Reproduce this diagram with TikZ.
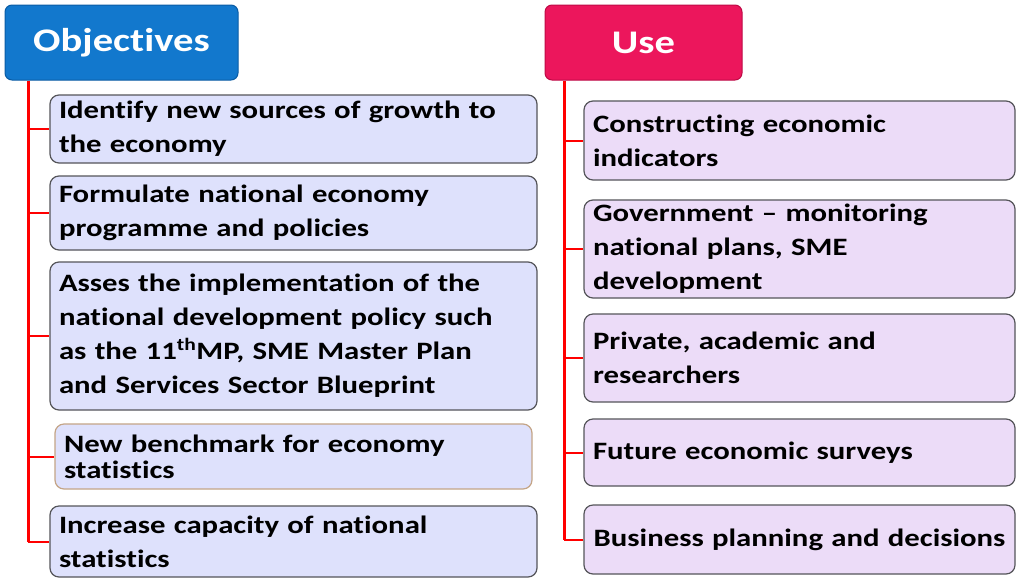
\documentclass[tikz,border=0pt]{standalone}
\usepackage{fontspec}
\newfontfamily\boxfont{Carlito}[FakeStretch=1.23, Ligatures={TeX,NoCommon}]
\definecolor{objblue}{RGB}{18,120,205}
\definecolor{objborder}{RGB}{10,92,165}
\definecolor{usepink}{RGB}{236,22,92}
\definecolor{useborder}{RGB}{190,10,70}
\definecolor{leftfill}{RGB}{222,225,252}
\definecolor{rightfill}{RGB}{236,220,248}
\definecolor{boxborder}{RGB}{85,85,90}
\definecolor{brownborder}{RGB}{196,165,135}
\definecolor{linered}{RGB}{255,0,0}
\begin{document}
\begin{tikzpicture}[x=1pt,y=-1pt,
  hdr/.style={rounded corners=7pt, minimum height=75pt, inner sep=0pt,
    font=\boxfont\bfseries\fontsize{33}{40}\selectfont, text=white, line width=1pt},
  item/.style={draw=boxborder, line width=1.2pt, rounded corners=9pt,
    inner xsep=9pt, inner ysep=0pt, align=left, text=black,
    font=\boxfont\bfseries\fontsize{25}{34}\selectfont},
  leftitem/.style={item, fill=leftfill, minimum width=487pt, text width=469pt},
  rightitem/.style={item, fill=rightfill, minimum width=431pt, text width=413pt},
  trunk/.style={draw=linered, line width=3pt},
  branch/.style={draw=linered, line width=2pt}]
\useasboundingbox (0,0) rectangle (1017,579);
\fill[white] (0,0) rectangle (1017,579);

% headers
\node[hdr, fill=objblue, draw=objborder, minimum width=233pt] (obj) at (121.5,42.5) {Objectives};
\node[hdr, fill=usepink, draw=useborder, minimum width=197pt] (use) at (643.5,42.5) {Use};

% left items
\node[leftitem, minimum height=68pt] (o1) at (293.5,129) {Identify new sources of growth to\\the economy};
\node[leftitem, minimum height=74pt] (o2) at (293.5,213) {Formulate national economy\\programme and policies};
\node[leftitem, minimum height=148pt] (o3) at (293.5,336) {Asses the implementation of the\\national development policy such\\as the 11\textsuperscript{th}MP, SME Master Plan\\and Services Sector Blueprint};
\node[item, fill=leftfill, draw=brownborder, minimum width=477pt, text width=459pt, minimum height=65pt,
  font=\boxfont\bfseries\fontsize{25}{26}\selectfont] (o4) at (293.5,456.5) {New benchmark for economy\\statistics};
\node[leftitem, minimum height=71pt] (o5) at (293.5,541.5) {Increase capacity of national\\statistics};

% right items
\node[rightitem, minimum height=79pt] (u1) at (799.5,140.5) {Constructing economic\\indicators};
\node[rightitem, minimum height=98pt] (u2) at (799.5,249) {Government – monitoring\\national plans, SME\\development};
\node[rightitem, minimum height=88pt] (u3) at (799.5,358) {Private, academic and\\researchers};
\node[rightitem, minimum height=67pt] (u4) at (799.5,452.5) {Future economic surveys};
\node[rightitem, minimum height=69pt, inner xsep=2pt, text width=427pt, align=center] (u5) at (799.5,539.5) {Business planning and decisions};

% connectors
\coordinate (lx) at (28,0);
\coordinate (rx) at (564,0);
\draw[trunk] (obj.south -| lx) -- (o5.west -| lx);
\foreach \n in {o1,o2,o3,o4,o5}{\draw[branch] (\n.west -| lx) -- (\n.west);}
\draw[trunk] (use.south -| rx) -- (u5.west -| rx);
\foreach \n in {u1,u2,u3,u4,u5}{\draw[branch] (\n.west -| rx) -- (\n.west);}
\end{tikzpicture}
\end{document}
